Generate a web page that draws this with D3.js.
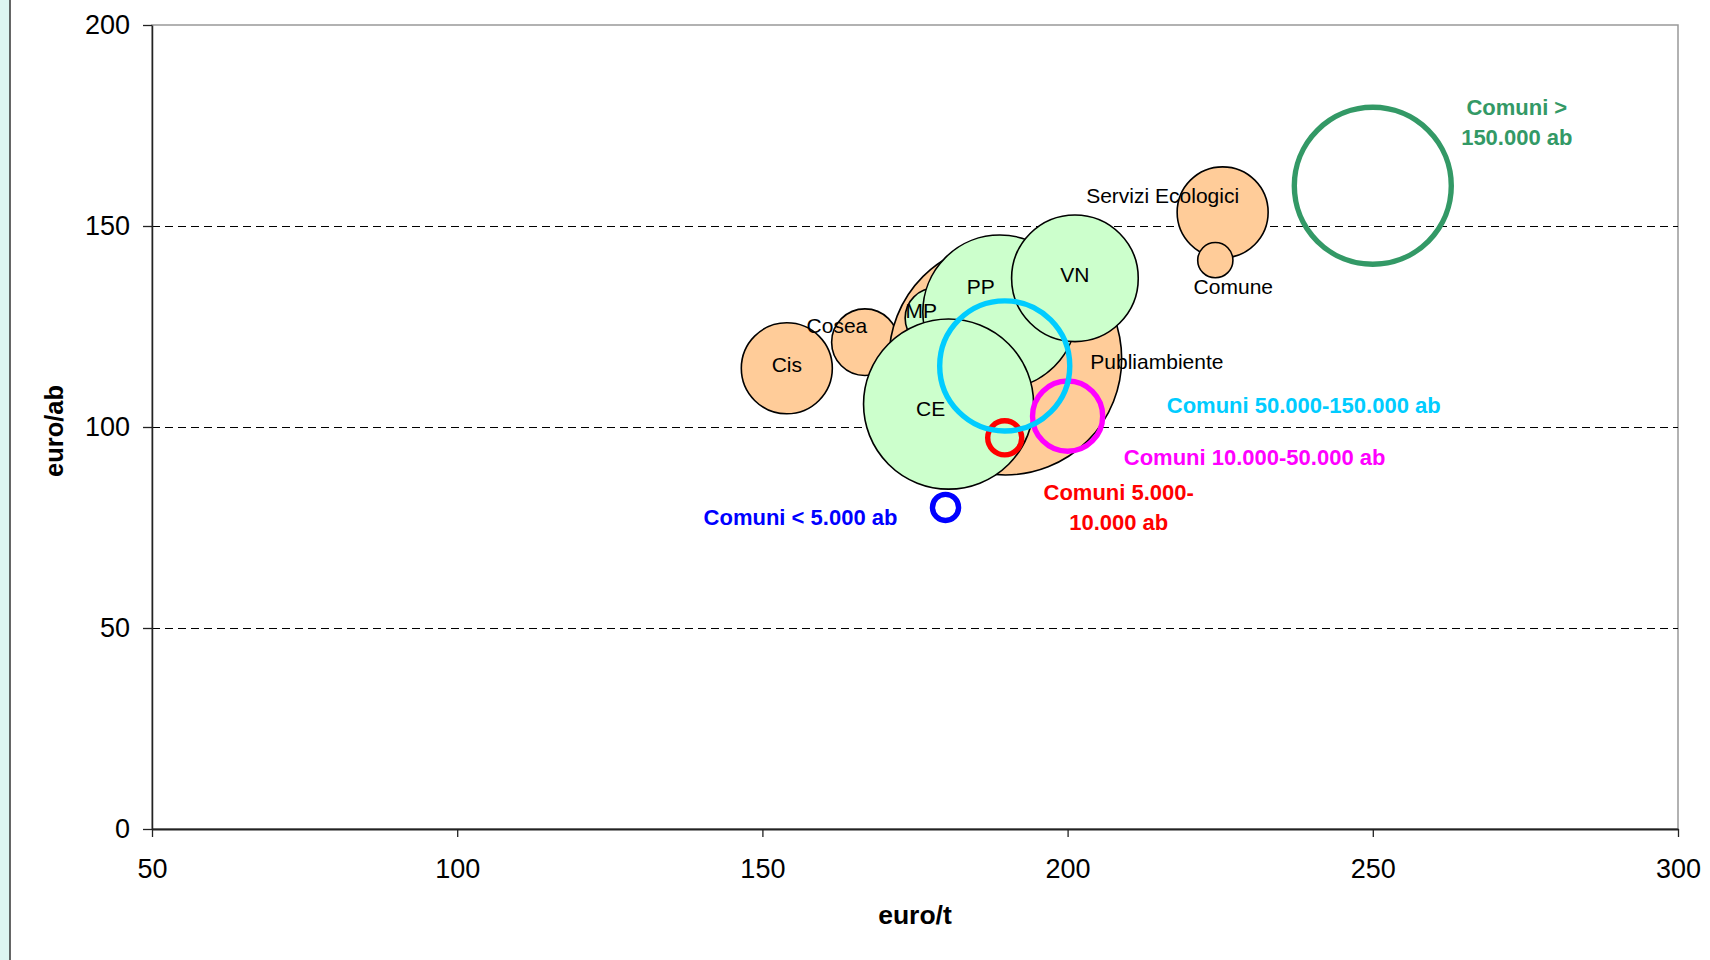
<!DOCTYPE html>
<html>
<head>
<meta charset="utf-8">
<script src="https://cdn.jsdelivr.net/npm/d3@7"></script>
<style>
  body { margin: 0; background: #fff; }
  svg  { display: block; }
  text { font-family: "Liberation Sans", Arial, sans-serif; }
</style>
</head>
<body>
<div class="playground"></div>
<script>

// aziende (arancio)
var aziende        = ["Cis", "Cosea", "Publiambiente", "Servizi Ecologici", "Comune"];
var aziendeEuroT   = [154.0, 166.8, 189.8, 225.4, 224.2];
var aziendeEuroAb  = [114.6, 121.1, 117.0, 153.4, 141.5];
var aziendeSize    = [20.7, 11.1, 135.3, 20.7, 3.1];

// consorzi (verde)
var consorzi       = ["MP", "PP", "VN", "CE"];
var consorziEuroT  = [178.3, 188.9, 201.2, 180.5];
var consorziEuroAb = [127.1, 128.6, 137.0, 105.7];
var consorziSize   = [9.0, 59.3, 40.1, 72.3];

// classi di comuni (solo bordo)
var classi         = ["Comuni < 5.000 ab", "Comuni 5.000-10.000 ab", "Comuni 10.000-50.000 ab",
                      "Comuni 50.000-150.000 ab", "Comuni > 150.000 ab"];
var classiEuroT    = [180.0, 189.7, 200.0, 189.7, 250.0];
var classiEuroAb   = [80.0, 97.3, 102.7, 115.2, 160.0];
var classiSize     = [1.7, 2.9, 12.3, 42.3, 61.6];

var xTicks         = [50, 100, 150, 200, 250, 300];
var yTicks         = [0, 50, 100, 150, 200];
var yGrid          = [50, 100, 150];


// label placement (offset from bubble centre, to baseline)
var labelPos = {
  "Cis":               { dx: 0,   dy: 4,   anchor: "middle" },
  "Cosea":             { dx: -28, dy: -9,  anchor: "middle" },
  "Publiambiente":     { dx: 85,  dy: 10,  anchor: "start" },
  "Servizi Ecologici": { dx: -60, dy: -9,  anchor: "middle" },
  "Comune":            { dx: 18,  dy: 34,  anchor: "middle" },
  "MP":                { dx: -14, dy: 0,   anchor: "middle" },
  "PP":                { dx: -19, dy: -18, anchor: "middle" },
  "VN":                { dx: 0,   dy: 4,   anchor: "middle" },
  "CE":                { dx: -18, dy: 12,  anchor: "middle" }
};

var classStyle = [
  { color: "#0000ff", lines: ["Comuni < 5.000 ab"],           dx: -145, dy: 18 },
  { color: "#ff0000", lines: ["Comuni 5.000-", "10.000 ab"],  dx: 114,  dy: 62 },
  { color: "#ff00ff", lines: ["Comuni 10.000-50.000 ab"],     dx: 187,  dy: 49 },
  { color: "#00ccff", lines: ["Comuni 50.000-150.000 ab"],    dx: 299,  dy: 47 },
  { color: "#339966", lines: ["Comuni >", "150.000 ab"],      dx: 144,  dy: -71 }
];


function toRows(names, xs, ys, sizes) {
  var rows = [];
  for (var i = 0; i < names.length; i++) {
    rows.push({ name: names[i], x: xs[i], y: ys[i], size: sizes[i], i: i });
  }
  return rows;
}

var width  = 1710,
    height = 960;

var svg = d3.select(".playground")
            .append("svg")
            .attr("width", width)
            .attr("height", height);

svg.append("rect").attr("width", width).attr("height", height).attr("fill", "#fff");

// slide frame on the left
svg.append("rect").attr("x", 0).attr("y", 0).attr("width", 10).attr("height", height).attr("fill", "#ddf5f1");
svg.append("line").attr("x1", 10).attr("x2", 10).attr("y1", 0).attr("y2", height)
   .attr("stroke", "#333").attr("stroke-width", 1.5);

var x = d3.scaleLinear().domain([50, 300]).range([152, 1678]);
var y = d3.scaleLinear().domain([0, 200]).range([829, 25]);
var r = d3.scaleSqrt().domain([0, 100]).range([0, 100]);

// plot border
svg.append("rect")
   .attr("x", x(50)).attr("y", y(200))
   .attr("width", x(300) - x(50)).attr("height", y(0) - y(200))
   .attr("fill", "none").attr("stroke", "#999").attr("stroke-width", 1.5);

// dashed gridlines
svg.append("g").selectAll("line")
   .data(yGrid).enter().append("line")
   .attr("x1", x(50)).attr("x2", x(300))
   .attr("y1", function(d) { return Math.round(y(d)) + 0.5; })
   .attr("y2", function(d) { return Math.round(y(d)) + 0.5; })
   .attr("stroke", "#000").attr("stroke-width", 1.2)
   .attr("stroke-dasharray", "8,5");

// axes
var yAxis = svg.append("g")
   .attr("transform", "translate(" + x(50) + ",0)")
   .call(d3.axisLeft(y).tickValues(yTicks).tickSize(9).tickSizeOuter(0).tickPadding(13));

var xAxis = svg.append("g")
   .attr("transform", "translate(0," + y(0) + ")")
   .call(d3.axisBottom(x).tickValues(xTicks).tickSize(8).tickSizeOuter(0).tickPadding(22));

[yAxis, xAxis].forEach(function(a) {
  a.selectAll("text").attr("font-size", 27).attr("fill", "#000")
   .style("font-family", '"Liberation Sans", Arial, sans-serif');
  a.selectAll("line").attr("stroke", "#222").attr("stroke-width", 1.3);
});
yAxis.select(".domain").attr("stroke", "#222").attr("stroke-width", 1.5);
xAxis.select(".domain").attr("stroke", "#222").attr("stroke-width", 2);

// axis titles
svg.append("text")
   .attr("x", (x(50) + x(300)) / 2).attr("y", 924)
   .attr("text-anchor", "middle").attr("font-size", 26.5).attr("font-weight", "bold")
   .text("euro/t");

svg.append("text")
   .attr("transform", "translate(63," + 431 + ") rotate(-90)")
   .attr("text-anchor", "middle").attr("font-size", 25.5).attr("font-weight", "bold")
   .text("euro/ab");


// filled bubbles
function drawBubbles(rows, fill) {
  svg.append("g").selectAll("circle")
     .data(rows).enter().append("circle")
     .attr("cx", function(d) { return x(d.x); })
     .attr("cy", function(d) { return y(d.y); })
     .attr("r",  function(d) { return r(d.size); })
     .attr("fill", fill)
     .attr("stroke", "#000").attr("stroke-width", 1.6);
}

var aziendeRows  = toRows(aziende, aziendeEuroT, aziendeEuroAb, aziendeSize);
var consorziRows = toRows(consorzi, consorziEuroT, consorziEuroAb, consorziSize);
var classiRows   = toRows(classi, classiEuroT, classiEuroAb, classiSize);

drawBubbles(aziendeRows, "#ffcc99");
drawBubbles(consorziRows, "#ccffcc");

// rings
svg.append("g").selectAll("circle")
   .data(classiRows).enter().append("circle")
   .attr("cx", function(d) { return x(d.x); })
   .attr("cy", function(d) { return y(d.y); })
   .attr("r",  function(d) { return r(d.size); })
   .attr("fill", "none")
   .attr("stroke", function(d) { return classStyle[d.i].color; })
   .attr("stroke-width", 5.4);

// black labels
svg.append("g").selectAll("text")
   .data(aziendeRows.concat(consorziRows)).enter().append("text")
   .attr("x", function(d) { return x(d.x) + labelPos[d.name].dx; })
   .attr("y", function(d) { return y(d.y) + labelPos[d.name].dy; })
   .attr("text-anchor", function(d) { return labelPos[d.name].anchor; })
   .attr("font-size", 21)
   .attr("fill", "#000")
   .text(function(d) { return d.name; });

// coloured labels
var cl = svg.append("g").selectAll("text")
   .data(classiRows).enter().append("text")
   .attr("text-anchor", "middle")
   .attr("font-size", 22)
   .attr("font-weight", "bold")
   .attr("fill", function(d) { return classStyle[d.i].color; });

cl.selectAll("tspan")
  .data(function(d) {
    var s = classStyle[d.i];
    return s.lines.map(function(t, k) {
      return { t: t, px: x(d.x) + s.dx, py: y(d.y) + s.dy + k * 30.5 };
    });
  })
  .enter().append("tspan")
  .attr("x", function(d) { return d.px; })
  .attr("y", function(d) { return d.py; })
  .text(function(d) { return d.t; });

</script>
</body>
</html>
